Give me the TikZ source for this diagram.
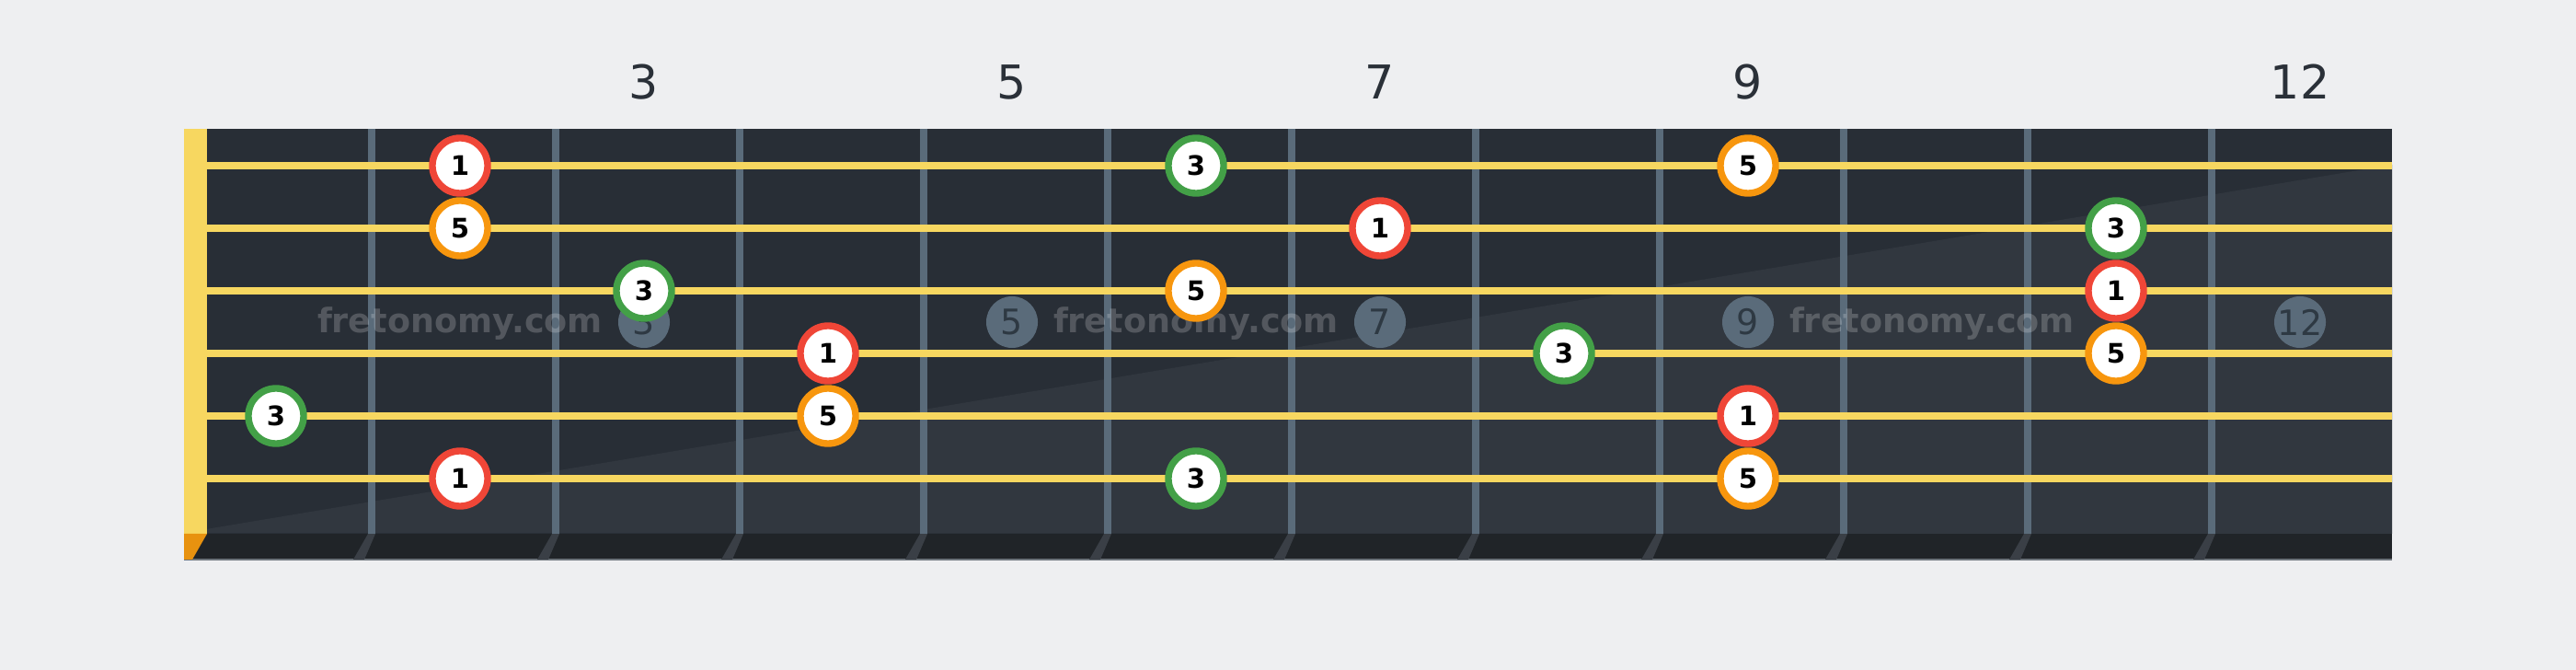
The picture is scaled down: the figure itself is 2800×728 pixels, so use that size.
\documentclass[tikz,border=0pt]{standalone}
\usepackage{fontspec}
\setmainfont{DejaVu Sans}

\definecolor{bgcol}{HTML}{EEEFF1}
\definecolor{boardcol}{HTML}{282E36}
\definecolor{boardlight}{HTML}{31373F}
\definecolor{stripcol}{HTML}{202428}
\definecolor{edgecol}{HTML}{6D747B}
\definecolor{fretcol}{HTML}{5A6B7A}
\definecolor{shadowcol}{HTML}{3A3F46}
\definecolor{stringcol}{HTML}{F7D760}
\definecolor{nutshoe}{HTML}{E8920F}
\definecolor{labelcol}{HTML}{2A3038}
\definecolor{markertext}{HTML}{2E3943}
\definecolor{rootcol}{HTML}{EF4637}
\definecolor{thirdcol}{HTML}{43A047}
\definecolor{fifthcol}{HTML}{F7960E}

\begin{document}
\begin{tikzpicture}[x=0.01cm,y=-0.01cm,
    note/.style={circle,fill=white,line width=2.1pt,minimum size=0.6cm,inner sep=0pt,
      font=\fontsize{8.3}{10}\selectfont\bfseries},
    marker/.style={circle,fill=fretcol,minimum size=0.56cm,inner sep=0pt,text=markertext,
      font=\fontsize{10.8}{12}\selectfont},
    fretlabel/.style={anchor=base,text=labelcol,font=\fontsize{14.4}{16}\selectfont},
    watermark/.style={anchor=base,text=white,text opacity=0.2,
      font=\fontsize{10.4}{12}\selectfont\bfseries}]
        % Background
        \fill[bgcol] (0,0) rectangle (2800,728);
        \useasboundingbox (0,0) rectangle (2800,728);

        % Fretboard
        \fill[boardcol] (200,140) rectangle (2600,580);
        \fill[boardlight] (200,579) -- (2600,179) -- (2600,580) -- cycle;
        \fill[stripcol] (200,580) rectangle (2600,607);
        \fill[edgecol] (200,607) rectangle (2600,609);

        % Frets and their shadows
        \foreach \k in {1,...,11} {
          \fill[shadowcol] ({200*\k+200},580) -- ({200*\k+208},580) -- ({200*\k+196},608) -- ({200*\k+184},608) -- cycle;
          \fill[fretcol] ({200*\k+200},140) rectangle ({200*\k+208},580);
        }

        % Nut
        \fill[stringcol] (200,140) rectangle (225,580);
        \fill[nutshoe] (200,580) -- (225,580) -- (209,608) -- (200,608) -- cycle;

        % Position markers
        \foreach \f in {3,5,7,9,12}
          \node[marker] (m\f) at ({200*\f+100},350) {\f};

        % Watermark
        \foreach \x [count=\i] in {500,1300,2100}
          \node[watermark] (w\i) at (\x,362) {fretonomy.com};

        % Strings
        \foreach \s in {1,...,6}
          \draw[stringcol,line width=0.08cm] (225,{112+68*\s}) -- (2600,{112+68*\s});

        % Fret numbers
        \foreach \f in {3,5,7,9,12}
          \node[fretlabel] (f\f) at ({200*\f+100},108) {\f};

        % Notes: string/fret/degree/colour
        \foreach \s/\f/\d/\c in {1/2/1/rootcol, 1/6/3/thirdcol, 1/9/5/fifthcol,
            2/2/5/fifthcol, 2/7/1/rootcol, 2/11/3/thirdcol,
            3/3/3/thirdcol, 3/6/5/fifthcol, 3/11/1/rootcol,
            4/4/1/rootcol, 4/8/3/thirdcol, 4/11/5/fifthcol,
            5/1/3/thirdcol, 5/4/5/fifthcol, 5/9/1/rootcol,
            6/2/1/rootcol, 6/6/3/thirdcol, 6/9/5/fifthcol}
          \node[note,draw=\c] (n\s-\f) at ({200*\f+100},{112+68*\s}) {\d};
\end{tikzpicture}
\end{document}
